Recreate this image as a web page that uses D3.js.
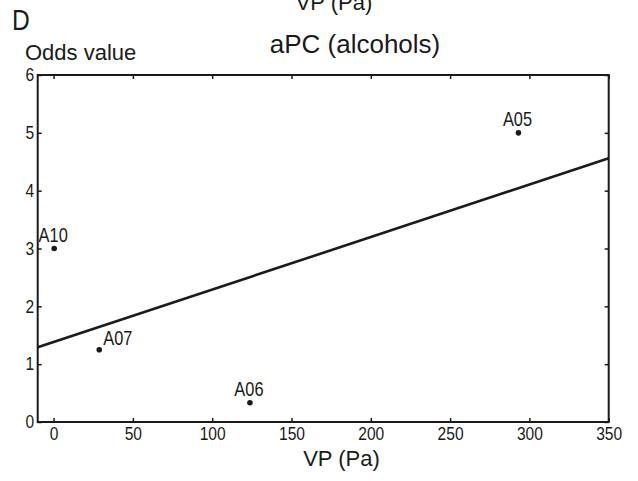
<!DOCTYPE html>
<html><head><meta charset="utf-8">
<script src="https://cdn.jsdelivr.net/npm/d3@7"></script>
<style>
html,body{margin:0;padding:0;background:#fff;}
svg{display:block;}
text{font-family:"Liberation Sans",Arial,Helvetica,sans-serif;}
</style></head>
<body>
<svg id="chart" width="638" height="481"></svg>
<script>
// ---- data ----
const pointNames = ["A05", "A06", "A07", "A10"];
const vpValues   = [293.1, 123.8, 28.8, 0.4];
const oddsValues = [5.0, 0.334, 1.25, 3.0];
const labelAnchors = ["middle", "middle", "start", "middle"];
const fitX = [-10, 350];
const fitY = [1.291, 4.56];
const xTicks = [0, 50, 100, 150, 200, 250, 300, 350];
const yTicks = [0, 1, 2, 3, 4, 5, 6];
const panelLabel = "D";
const titleText = "aPC (alcohols)";
const xLabel = "VP (Pa)";
const yLabel = "Odds value";

// ---- layout ----
const svg = d3.select("#chart");
const L = 37.7, R = 608.7, T = 75, B = 422;
const x = d3.scaleLinear().domain([-10, 350]).range([L, R]);
const y = d3.scaleLinear().domain([0, 6]).range([B, T]);
const ink = "#1a1a1a";
const NS = 0.82; // condensed look

// frame
svg.append("rect").attr("x", L).attr("y", T).attr("width", R - L).attr("height", B - T)
  .attr("fill", "none").attr("stroke", ink).attr("stroke-width", 2);

// axes with inward ticks
const tickLen = 4;
const gB = svg.append("g").attr("transform", `translate(0,${B})`)
  .call(d3.axisBottom(x).tickValues(xTicks).tickSize(-tickLen).tickFormat(d3.format("d")));
const gT = svg.append("g").attr("transform", `translate(0,${T})`)
  .call(d3.axisTop(x).tickValues(xTicks).tickSize(-tickLen).tickFormat(""));
const gL = svg.append("g").attr("transform", `translate(${L},0)`)
  .call(d3.axisLeft(y).tickValues(yTicks).tickSize(-tickLen).tickFormat(d3.format("d")));
const gR = svg.append("g").attr("transform", `translate(${R},0)`)
  .call(d3.axisRight(y).tickValues(yTicks).tickSize(-tickLen).tickFormat(""));
[gB, gT, gL, gR].forEach(g => {
  g.select(".domain").remove();
  g.selectAll(".tick line").attr("stroke", ink).attr("stroke-width", 1.5);
  g.selectAll(".tick text").attr("font-family", null).attr("font-size", 19).attr("fill", ink);
});
gB.selectAll(".tick text").attr("x", 0).attr("y", 18).attr("dy", null)
  .attr("transform", `scale(${NS},1)`);
gL.selectAll(".tick text").attr("x", -3.5 / NS).attr("y", 0).attr("dy", "0.30em")
  .attr("transform", `scale(${NS},1)`);

// regression line
svg.append("line")
  .attr("x1", x(fitX[0])).attr("y1", y(fitY[0]))
  .attr("x2", x(fitX[1])).attr("y2", y(fitY[1]))
  .attr("stroke", ink).attr("stroke-width", 2.6);

// points
pointNames.forEach((n, i) => {
  const px = x(vpValues[i]), py = y(oddsValues[i]);
  svg.append("circle").attr("cx", px).attr("cy", py).attr("r", 2.8).attr("fill", ink);
  const a = labelAnchors[i];
  const tx = a === "start" ? px + 4 : px - 1;
  const ty = a === "start" ? py - 5 : py - 6.5;
  svg.append("text").attr("font-size", 20).attr("fill", ink)
    .attr("text-anchor", a)
    .attr("transform", `translate(${tx},${ty}) scale(${NS},1)`)
    .text(n);
});

// texts
svg.append("text").attr("font-size", 30).attr("fill", ink)
  .attr("transform", `translate(12,30) scale(${NS},1)`).text(panelLabel);
svg.append("text").attr("font-size", 22).attr("fill", ink)
  .attr("x", 25).attr("y", 60).text(yLabel);
svg.append("text").attr("font-size", 26).attr("fill", ink)
  .attr("text-anchor", "middle").attr("x", 355).attr("y", 53).text(titleText);
svg.append("text").attr("font-size", 22).attr("fill", ink)
  .attr("text-anchor", "middle").attr("x", 341.5).attr("y", 466).text(xLabel);
// cut-off label of the panel above (partly outside the picture, as in the reference)
svg.append("text").attr("font-size", 22).attr("fill", ink)
  .attr("text-anchor", "middle").attr("x", 334).attr("y", 10).text(xLabel);
</script>
</body></html>
